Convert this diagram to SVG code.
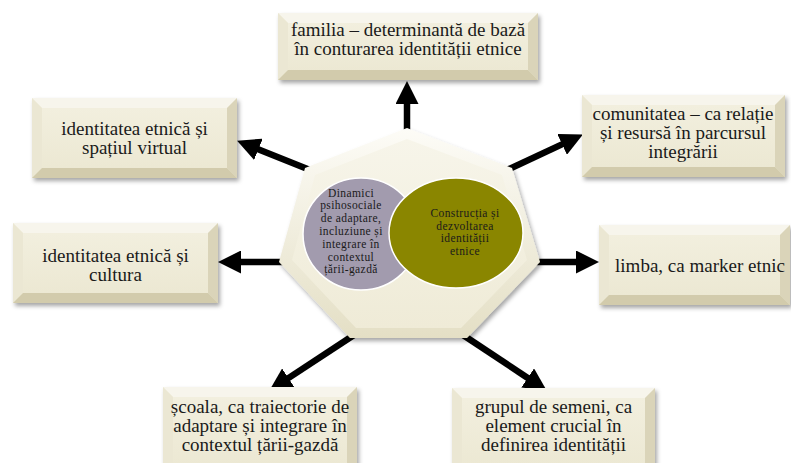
<svg xmlns="http://www.w3.org/2000/svg" width="791" height="463" viewBox="0 0 791 463">
<style>
.bx text,.ctr text{font-family:"Liberation Serif","Times New Roman",serif;fill:#1a1a1a;text-anchor:middle}
.bx text{font-size:19px}
.ctr text{font-size:11.5px;letter-spacing:0.4px}
.face{fill:url(#faceG)}
.bt{fill:#f7f5ec}
.bl{fill:#ebe7d3}
.br{fill:#dad4b9}
.bb{fill:#d2cbac}
.conn line{stroke:#000;stroke-width:6.5;marker-end:url(#ah)}
</style>
<defs>
<linearGradient id="faceG" x1="0" y1="0" x2="0" y2="1">
<stop offset="0" stop-color="#f3f0e0"/>
<stop offset="1" stop-color="#ebe7d1"/>
</linearGradient>
<linearGradient id="heptO" x1="0" y1="0" x2="0" y2="1">
<stop offset="0" stop-color="#fdfcf7"/>
<stop offset="1" stop-color="#e4dfc5"/>
</linearGradient>
<linearGradient id="heptI" x1="0" y1="0" x2="0" y2="1">
<stop offset="0" stop-color="#f7f5ea"/>
<stop offset="1" stop-color="#efebd7"/>
</linearGradient>
<filter id="sh" x="-10%" y="-10%" width="125%" height="130%">
<feDropShadow dx="2" dy="3" stdDeviation="2" flood-color="#000" flood-opacity="0.35"/>
</filter>
<marker id="ah" markerUnits="userSpaceOnUse" markerWidth="23" markerHeight="23" viewBox="0 0 23 23" refX="1" refY="11.5" orient="auto">
<path d="M0,0 L23,11.5 L0,23 Z" fill="#000"/>
</marker>
</defs>

<g id="connectors" class="conn">
<line x1="407" y1="132" x2="407" y2="103"/>
<line x1="310" y1="170" x2="257.5" y2="148.9"/>
<line x1="507" y1="170" x2="563" y2="143.9"/>
<line x1="284" y1="262" x2="240" y2="262"/>
<line x1="535" y1="262" x2="577" y2="262"/>
<line x1="354" y1="335" x2="287.6" y2="378.6"/>
<line x1="463" y1="335" x2="528.5" y2="378.5"/>
</g>

<g id="center" class="ctr">
<polygon points="407,128 512,168 540,262 467,338 350,338 279,262 305,168" fill="url(#heptO)" filter="url(#sh)"/>
<polygon points="407,139 502,175 527,260 461,328 356,328 292,260 315,175" fill="url(#heptI)"/>
<ellipse cx="361" cy="234" rx="58" ry="56" fill="#a29bae" stroke="#fff" stroke-width="1.5"/>
<ellipse cx="456" cy="233" rx="67" ry="55" fill="#8a8600" stroke="#fff" stroke-width="1.5"/>
<text x="351" y="196.6">Dinamici</text>
<text x="351" y="209.4">psihosociale</text>
<text x="351" y="222.2">de adaptare,</text>
<text x="351" y="235">incluziune și</text>
<text x="351" y="247.8">integrare în</text>
<text x="351" y="260.6">contextul</text>
<text x="351" y="273.4">țării-gazdă</text>
<text x="465" y="216.8">Construcția și</text>
<text x="465" y="229.6">dezvoltarea</text>
<text x="465" y="242.4">identității</text>
<text x="465" y="255.2">etnice</text>
</g>

<g id="n-top" class="bx">
<g filter="url(#sh)"><rect x="278" y="13" width="260" height="67" class="face"/></g>
<polygon points="278,13 538,13 528,23 288,23" class="bt"/>
<polygon points="278,13 288,23 288,70 278,80" class="bl"/>
<polygon points="538,13 538,80 528,70 528,23" class="br"/>
<polygon points="278,80 288,70 528,70 538,80" class="bb"/>
<text x="408" y="36">familia – determinantă de bază</text>
<text x="408" y="55">în conturarea identității etnice</text>
</g>

<g id="n-upleft" class="bx">
<g filter="url(#sh)"><rect x="32" y="98" width="205" height="80" class="face"/></g>
<polygon points="32,98 237,98 227,108 42,108" class="bt"/>
<polygon points="32,98 42,108 42,168 32,178" class="bl"/>
<polygon points="237,98 237,178 227,168 227,108" class="br"/>
<polygon points="32,178 42,168 227,168 237,178" class="bb"/>
<text x="134.5" y="135">identitatea etnică și</text>
<text x="134.5" y="154">spațiul virtual</text>
</g>

<g id="n-upright" class="bx">
<g filter="url(#sh)"><rect x="582" y="95" width="203" height="82" class="face"/></g>
<polygon points="582,95 785,95 775,105 592,105" class="bt"/>
<polygon points="582,95 592,105 592,167 582,177" class="bl"/>
<polygon points="785,95 785,177 775,167 775,105" class="br"/>
<polygon points="582,177 592,167 775,167 785,177" class="bb"/>
<text x="683" y="120">comunitatea – ca relație</text>
<text x="683" y="139">și resursă în parcursul</text>
<text x="683" y="158">integrării</text>
</g>

<g id="n-left" class="bx">
<g filter="url(#sh)"><rect x="13" y="223" width="205" height="80" class="face"/></g>
<polygon points="13,223 218,223 208,233 23,233" class="bt"/>
<polygon points="13,223 23,233 23,293 13,303" class="bl"/>
<polygon points="218,223 218,303 208,293 208,233" class="br"/>
<polygon points="13,303 23,293 208,293 218,303" class="bb"/>
<text x="115.5" y="262">identitatea etnică și</text>
<text x="115.5" y="281">cultura</text>
</g>

<g id="n-right" class="bx">
<g filter="url(#sh)"><rect x="599" y="225" width="191" height="80" class="face"/></g>
<polygon points="599,225 790,225 780,235 609,235" class="bt"/>
<polygon points="599,225 609,235 609,295 599,305" class="bl"/>
<polygon points="790,225 790,305 780,295 780,235" class="br"/>
<polygon points="599,305 609,295 780,295 790,305" class="bb"/>
<text x="700" y="272">limba, ca marker etnic</text>
</g>

<g id="n-botleft" class="bx">
<g filter="url(#sh)"><rect x="163" y="387" width="194" height="90" class="face"/></g>
<polygon points="163,387 357,387 347,397 173,397" class="bt"/>
<polygon points="163,387 173,397 173,477 163,477" class="bl"/>
<polygon points="357,387 357,477 347,477 347,397" class="br"/>
<text x="260" y="413">școala, ca traiectorie de</text>
<text x="260" y="432">adaptare și integrare în</text>
<text x="260" y="451">contextul țării-gazdă</text>
</g>

<g id="n-botright" class="bx">
<g filter="url(#sh)"><rect x="452" y="388" width="203" height="90" class="face"/></g>
<polygon points="452,388 655,388 645,398 462,398" class="bt"/>
<polygon points="452,388 462,398 462,478 452,478" class="bl"/>
<polygon points="655,388 655,478 645,478 645,398" class="br"/>
<text x="553.5" y="413">grupul de semeni, ca</text>
<text x="553.5" y="432">element crucial în</text>
<text x="553.5" y="451">definirea identității</text>
</g>
</svg>
